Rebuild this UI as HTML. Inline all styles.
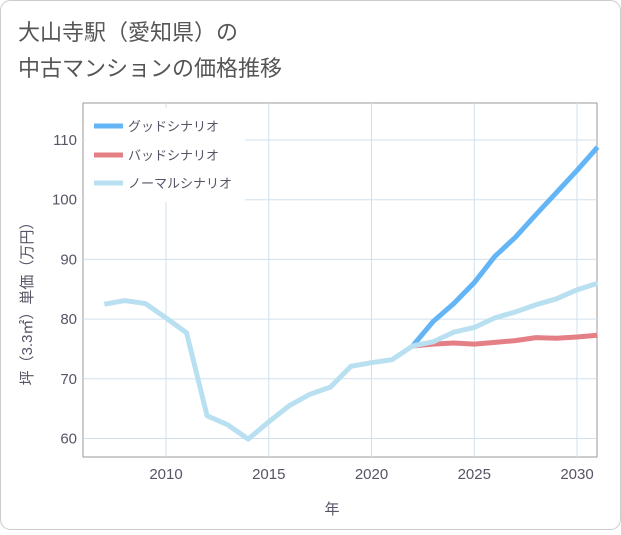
<!DOCTYPE html>
<html><head><meta charset="utf-8"><style>
body{margin:0;background:#fff;font-family:"Liberation Sans","Noto Sans CJK JP",sans-serif;}
#wrap{position:relative;width:621px;height:530px;}
</style></head><body>
<div id="wrap">
<svg id="svg" width="621" height="530" xmlns="http://www.w3.org/2000/svg">
<rect x="0.5" y="0.5" width="620" height="529" rx="10" fill="#fff" stroke="#ccc"/>
<text x="18" y="40" font-size="22" fill="#555">大山寺駅（愛知県）の</text>
<text x="18" y="76" font-size="22" fill="#555">中古マンションの価格推移</text>
<g id="grid"></g><g id="lines"></g>
<g>
<rect x="85" y="108" width="160" height="94" fill="#fff"/>
<line x1="94" y1="126" x2="123" y2="126" stroke="#64b5f6" stroke-width="5"/>
<text x="128" y="131" font-size="13" fill="#556">グッドシナリオ</text>
<line x1="94" y1="155" x2="123" y2="155" stroke="#e57f86" stroke-width="5"/>
<text x="128" y="160" font-size="13" fill="#556">バッドシナリオ</text>
<line x1="94" y1="183" x2="123" y2="183" stroke="#b9e0f0" stroke-width="5"/>
<text x="128" y="188" font-size="13" fill="#556">ノーマルシナリオ</text>
</g>
<text x="332" y="514" font-size="15" fill="#556" text-anchor="middle">年</text>
<text transform="translate(32,300) rotate(-90)" font-size="15" fill="#556" text-anchor="middle">坪（3.3㎡）単価（万円）</text>
</svg>
</div>
<script>
const years=[2007,2008,2009,2010,2011,2012,2013,2014,2015,2016,2017,2018,2019,2020,2021,2022,2023,2024,2025,2026,2027,2028,2029,2030,2031];
const normal=[82.5,83.1,82.6,80.2,77.7,63.8,62.3,59.9,62.8,65.5,67.4,68.6,72.1,72.7,73.2,75.5,76.2,77.8,78.6,80.2,81.2,82.4,83.4,84.9,86.0];
const futureYears=[2022,2023,2024,2025,2026,2027,2028,2029,2030,2031];
const good=[75.5,79.6,82.6,86.1,90.5,93.7,97.5,101.2,104.9,108.8];
const bad=[75.5,75.8,76.0,75.8,76.1,76.4,76.9,76.8,77.0,77.3];
const xTicks=[2010,2015,2020,2025,2030];
const yTicks=[60,70,80,90,100,110];
const L=83,R=597,T=103,B=457;
const X=v=>166+(v-2010)*20.55;
const Y=v=>140+(110-v)*5.97;
const NS="http://www.w3.org/2000/svg";
const grid=document.getElementById('grid'),lines=document.getElementById('lines');
function mk(tag,attrs,parent){const e=document.createElementNS(NS,tag);for(const k in attrs)e.setAttribute(k,attrs[k]);parent.appendChild(e);return e;}
let fr=mk('rect',{x:L,y:T,width:R-L,height:B-T,fill:'#fff',stroke:'#999','stroke-width':1},grid);


for(let y=2007;y<=2031;y++){}
xTicks.forEach(t=>{
 let l=mk('line',{x1:X(t),x2:X(t),y1:T,y2:B,stroke:'#d0e0ee'},grid);
 
 
 let tx=mk('text',{x:X(t),y:B+22,'font-size':15,fill:'#556','text-anchor':'middle'},grid);tx.textContent=t;
 
 
});
yTicks.forEach(t=>{
 let l=mk('line',{x1:L,x2:R,y1:Y(t),y2:Y(t),stroke:'#d0e0ee'},grid);
 
 
 let tx=mk('text',{x:L-6,y:Y(t)+5,'font-size':15,fill:'#556','text-anchor':'end'},grid);tx.textContent=t;
 
 
});
function line(xs,vs,color,name){
 let p=mk('polyline',{points:xs.map((x,i)=>X(x)+','+Y(vs[i])).join(' '),fill:'none',stroke:color,'stroke-width':5,'stroke-linejoin':'round'},lines);
 
 
}
line(futureYears,bad,'#e57f86','bad-scenario-line');
line(futureYears,good,'#64b5f6','good-scenario-line');
line(years,normal,'#b9e0f0','normal-scenario-line');
</script>
</body></html>
